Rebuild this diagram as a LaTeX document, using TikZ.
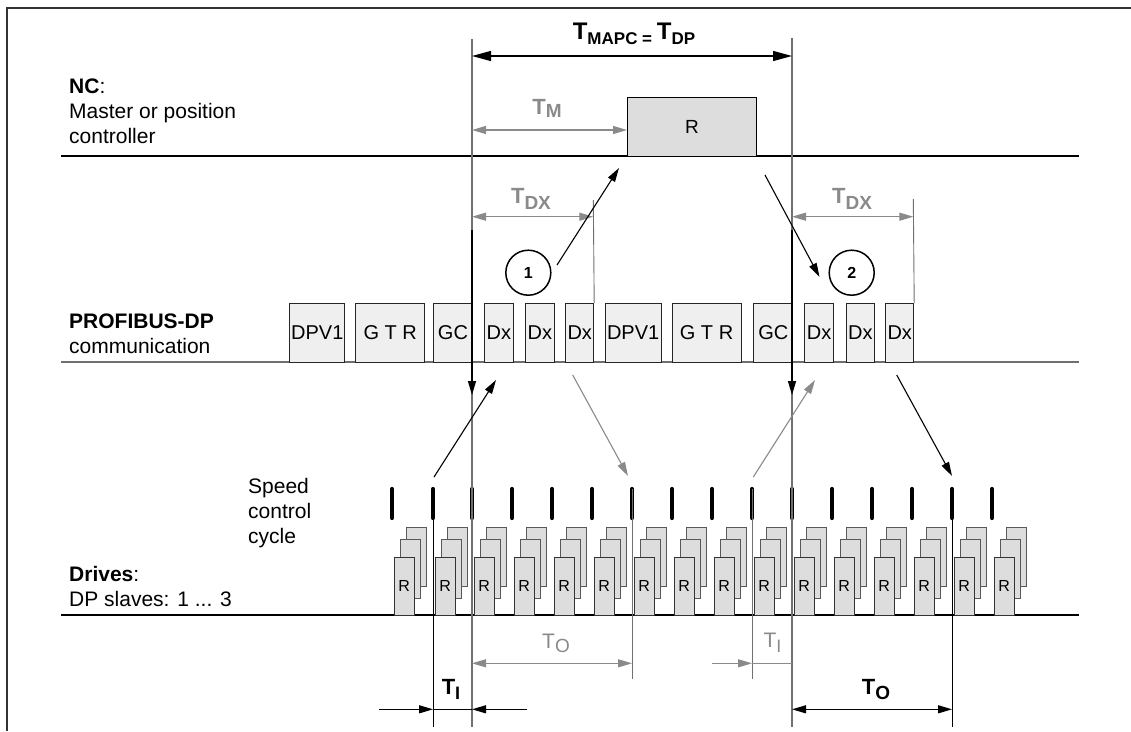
\documentclass[tikz,border=0pt]{standalone}
\usepackage{fontspec}
\setmainfont{Liberation Sans}
\usetikzlibrary{arrows.meta}
\definecolor{lg}{HTML}{707070}
\definecolor{tg}{HTML}{8A8A8A}
\definecolor{rfill}{HTML}{DDDDDD}
\definecolor{pfill}{HTML}{EFEFEF}
\newcommand\fs[1]{\fontsize{#1}{#1}\selectfont}
% T with subscript: size of T, size of subscript, subscript text, drop
\newcommand\TT[4]{{\fs{#1}T}\raisebox{-#4pt}{\fs{#2}#3}}
\begin{document}
\begin{tikzpicture}[x=1pt,y=-1pt,
  every node/.style={inner sep=0pt},
  lab/.style={anchor=base west, font=\fs{21}},
  gline/.style={draw=lg, line width=1.5pt},
  thinl/.style={draw=lg, line width=0.9pt},
  blk/.style={draw=black, line width=1.2pt},
  >={Triangle[length=14pt,width=8pt]},
  dimk/.style={draw=black, line width=1.1pt},
  dimg/.style={draw=tg, line width=1.1pt},
  pbox/.style={draw=black!85, fill=pfill, line width=0.9pt, font=\fs{20}, anchor=north west, minimum height=59pt},
  rback/.style={draw=black!65, fill=rfill, line width=0.9pt},
  rfront/.style={draw=black!80, fill=rfill, line width=0.9pt, font=\fs{16}, anchor=north west, minimum width=19.5pt, minimum height=58.5pt},
  tickm/.style={draw=black, line width=4.2pt, line cap=round},
  circ/.style={draw=black, line width=1.5pt, circle, minimum size=45pt, font=\bfseries\fs{16}},
  tlab/.style={anchor=base}
]
\useasboundingbox (0,0) rectangle (1131,731);
\fill[white] (0,0) rectangle (1131,731);
% frame
\draw[draw=black!80, line width=1.5pt] (7,731) -- (7,8) -- (1131,8);

% separator lines
\draw[blk] (61,156) -- (1079,156);
\draw[draw=lg, line width=1.6pt] (61,362) -- (1079,362);
\draw[blk] (61,615) -- (1079,615);

% left labels
\node[lab] (nc) at (69,93) {\textbf{NC}:};
\node[lab] (nc2) at (69,118) {Master or position};
\node[lab] (nc3) at (69,143) {controller};
\node[lab] (pb) at (69,328) {\textbf{PROFIBUS-DP}};
\node[lab] (pb2) at (69,353) {communication};
\node[lab] (sp1) at (248,493) {Speed};
\node[lab] (sp2) at (248,518) {control};
\node[lab] (sp3) at (248,543) {cycle};
\node[lab] (dr) at (69,581) {\textbf{Drives}:};
\node[lab] (dr2) at (69,606) {DP slaves: 1 ... 3};

% NC controller box
\node[draw=black, fill=rfill, line width=1pt, anchor=north west, minimum width=129pt, minimum height=59pt, font=\fs{19}] (Rnc) at (627,97) {R};

% PROFIBUS telegrams
\foreach \a/\b/\t/\n in {289.3/344.3/DPV1/p1, 355.3/424.3/G T R/p2, 433.3/471.7/GC/p3,
  484.3/512.7/Dx/p4, 525.3/553.7/Dx/p5, 565.3/593.3/Dx/p6, 604.7/660.7/DPV1/p7,
  671.5/740.7/G T R/p8, 753.3/792.3/GC/p9, 804.3/833/Dx/p10, 845.7/874/Dx/p11, 885.3/913.3/Dx/p12}
{
  \node[pbox, minimum width={(\b-\a)*1pt}] (\n) at (\a,303) {\t};
}

% drive stacks and speed control ticks
\foreach \t in {392,433,472,512,552,592,632,672,712,752,792,832,872,912,952,992}
{
  \draw[rback] (\t+14.5,527) rectangle ++(19.5,59);
  \draw[rback] (\t+8.5,539.5) rectangle ++(19.5,59);
  \node[rfront] (r\t) at (\t+2,556.5) {R};
  \draw[tickm] (\t,489) -- (\t,518);
}

% main vertical cycle lines
\coordinate (Atop) at (472,39);
\coordinate (Abot) at (472,727);
\coordinate (Btop) at (792,38);
\coordinate (Bbot) at (792,727);
\draw[gline] (Atop) -- (Abot);
\draw[gline] (Btop) -- (Bbot);
\coordinate (As) at (472,230);
\coordinate (Ae) at (472,395);
\coordinate (Bs) at (792,230);
\coordinate (Be) at (792,395);
\draw[dimk,->] (As) -- (Ae);
\draw[dimk,->] (Bs) -- (Be);

% other vertical reference lines
\draw[thinl] (593.3,200) -- (p6.north east);
\draw[thinl] (913.3,199) -- (p12.north east);
\draw[draw=black, line width=1pt] (433,489) -- (433,727);
\draw[draw=black, line width=1pt] (952,489) -- (952,727);
\draw[thinl] (632,489) -- (632,679);
\draw[thinl] (752,489) -- (752,679);

% T_MAPC = T_DP
\coordinate (mL) at (472,56);
\coordinate (mR) at (792,56);
\draw[dimk, line width=1.3pt, >={Triangle[length=19pt,width=10pt]}, <->] (mL) -- (mR);
\node[tlab, font=\bfseries] (tmapc) at (634,39.3) {\TT{24}{17}{MAPC = }{4.7}\TT{24}{17}{DP}{4.7}};

% T_M
\coordinate (tmL) at (472,130);
\draw[dimg, <->] (tmL) -- (Rnc.west |- tmL);
\node[tlab, text=tg, font=\bfseries] (tm) at (547,114) {\TT{22}{19}{M}{3.3}};

% T_DX
\coordinate (dxL) at (472,216.7);
\coordinate (dxR) at (593.3,216.7);
\draw[dimg, <->] (dxL) -- (dxR);
\node[tlab, text=tg, font=\bfseries] (tdx1) at (531,203.3) {\TT{22}{19}{DX}{6.5}};
\coordinate (dx2L) at (792,216.7);
\coordinate (dx2R) at (913.3,216.7);
\draw[dimg, <->] (dx2L) -- (dx2R);
\node[tlab, text=tg, font=\bfseries] (tdx2) at (852,203.3) {\TT{22}{19}{DX}{6.5}};

% circles
\node[circ] (c1) at (528.3,272.7) {1};
\node[circ] (c2) at (851.7,272.7) {2};

% arrows NC <-> PROFIBUS
\coordinate (a1s) at (557,265);
\coordinate (a1e) at (619,168);
\draw[dimk, ->] (a1s) -- (a1e);
\coordinate (a2s) at (765,175);
\coordinate (a2e) at (819.5,277);
\draw[dimk, ->] (a2s) -- (a2e);

% arrows PROFIBUS <-> drives
\coordinate (b1s) at (434,477);
\coordinate (b1e) at (496,380);
\draw[dimk, ->] (b1s) -- (b1e);
\coordinate (b2s) at (572.7,375);
\coordinate (b2e) at (628,476);
\draw[dimg, ->] (b2s) -- (b2e);
\coordinate (b3s) at (753.3,477);
\coordinate (b3e) at (815,380);
\draw[dimg, ->] (b3s) -- (b3e);
\coordinate (b4s) at (896.7,375);
\coordinate (b4e) at (952,476);
\draw[dimk, ->] (b4s) -- (b4e);

% bottom dimensions
\coordinate (toL) at (472,663.3);
\coordinate (toR) at (632,663.3);
\draw[dimg, <->] (toL) -- (toR);
\node[tlab, text=tg] (to1) at (556,648.3) {\TT{21}{19}{O}{4.4}};

\coordinate (ti1a) at (379,709.3);
\coordinate (ti1b) at (433,709.3);
\coordinate (ti1c) at (472,709.3);
\coordinate (ti1d) at (527,709.3);
\draw[dimk, ->] (ti1a) -- (ti1b);
\draw[dimk, ->] (ti1d) -- (ti1c);
\draw[dimk] (ti1b) -- (ti1c);
\node[tlab, font=\bfseries] (ti1) at (451,694) {\TT{22}{18}{I}{5}};

\coordinate (ti2a) at (711.7,663.3);
\coordinate (ti2b) at (752,663.3);
\coordinate (ti2c) at (792,663.3);
\draw[dimg, ->] (ti2a) -- (ti2b);
\draw[dimg] (ti2b) -- (ti2c);
\node[tlab, text=tg] (ti2) at (772.5,647.3) {\TT{21}{18}{I}{5.4}};

\coordinate (to2L) at (792,709.3);
\coordinate (to2R) at (952,709.3);
\draw[dimk, <->] (to2L) -- (to2R);
\node[tlab, font=\bfseries] (to2) at (876,694) {\TT{22}{19}{O}{5.3}};
\end{tikzpicture}
\end{document}
